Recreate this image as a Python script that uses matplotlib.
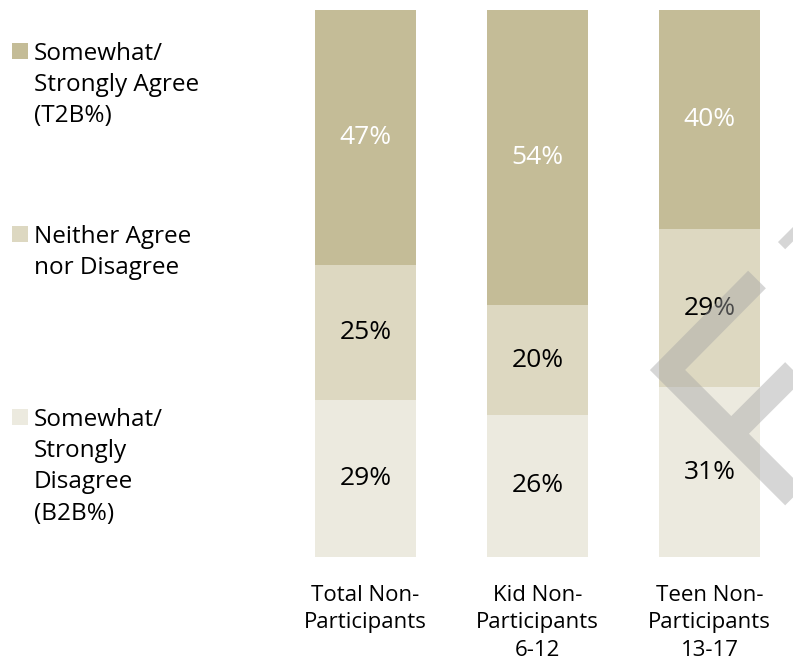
import matplotlib.pyplot as plt
from matplotlib.lines import Line2D
from matplotlib.patches import Rectangle
import numpy as np

plt.rcParams['font.family'] = ['Open Sans', 'DejaVu Sans']

# data
categories = ['Total Non-\nParticipants', 'Kid Non-\nParticipants\n6-12', 'Teen Non-\nParticipants\n13-17']
series_names = ['Somewhat/\nStrongly\nDisagree\n(B2B%)',
                'Neither Agree\nnor Disagree',
                'Somewhat/\nStrongly Agree\n(T2B%)']
disagree = [29, 26, 31]
neither = [25, 20, 29]
agree = [47, 54, 40]

colors = ['#ECEADF', '#DDD8C1', '#C4BC97']
label_colors = ['black', 'black', 'white']

W, H = 793, 662
fig = plt.figure(figsize=(W / 100, H / 100), dpi=100)
ax = fig.add_axes([279.5 / W, 105 / H, 513.5 / W, 547 / H])

values = np.array([disagree, neither, agree], dtype=float)
totals = values.sum(axis=0)
shares = values / totals
x = np.arange(len(categories))

bottom = np.zeros(len(categories))
for i in range(len(values)):
    ax.bar(x, shares[i], bottom=bottom, width=0.59, color=colors[i], edgecolor='none')
    for j in range(len(x)):
        ax.text(x[j], bottom[j] + shares[i][j] / 2, f'{int(values[i][j])}%',
                ha='center', va='center', fontsize=19, color=label_colors[i])
    bottom += shares[i]

ax.set_xlim(-0.5, -0.5 + 513.5 / 172)
ax.set_ylim(0, 1)
ax.set_xticks(x)
ax.set_xticklabels(categories, fontsize=16, linespacing=1.4)
ax.tick_params(axis='x', length=0, pad=20)
ax.set_yticks([])
for s in ax.spines.values():
    s.set_visible(False)

# legend drawn by hand on the left
legend_tops = [409, 226, 43]
for i in range(len(series_names)):
    top = legend_tops[i]
    fig.add_artist(Rectangle((12 / W, 1 - (top + 16) / H), 16 / W, 16 / H,
                             transform=fig.transFigure, color=colors[i], lw=0))
    fig.text(34 / W, 1 - (top - 1) / H, series_names[i], fontsize=17.5,
             va='top', ha='left', linespacing=1.4)

# watermark chevron, one path so overlaps are not darker
wm_pts = [(757, 279.5), (667.5, 370), (900, 602.5), (np.nan, np.nan),
          (731, 434), (900, 265), (np.nan, np.nan),
          (786.8, 233.2), (900, 346.4)]
wx = [p[0] / W for p in wm_pts]
wy = [1 - p[1] / H for p in wm_pts]
fig.add_artist(Line2D(wx, wy, color='#A6A6A6', alpha=0.45, lw=18,
                      solid_joinstyle='miter', solid_capstyle='butt',
                      transform=fig.transFigure))

fig.savefig('out.png', dpi=100)
